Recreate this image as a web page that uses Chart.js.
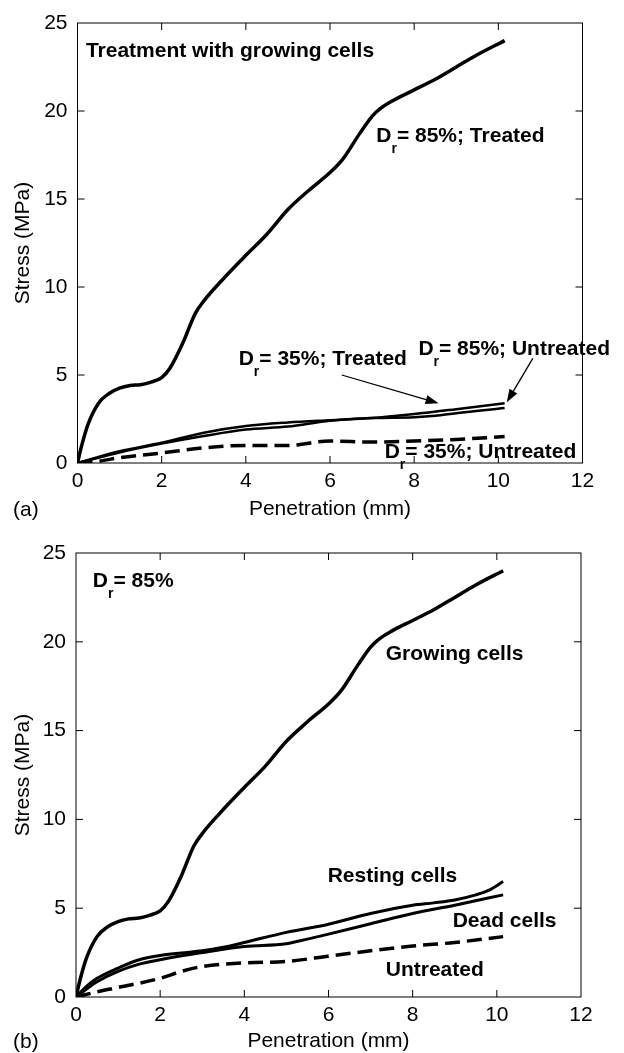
<!DOCTYPE html>
<html>
<head>
<meta charset="utf-8">
<title>Stress vs penetration</title>
<script src="https://cdn.jsdelivr.net/npm/chart.js@4.4.1/dist/chart.umd.min.js"></script>
<style>
  body { margin: 0; background: #fff; }
  canvas { display: block; }
</style>
</head>
<body>
<canvas id="chartA" width="624" height="526"></canvas>
<canvas id="chartB" width="624" height="527"></canvas>
<script>
// Axis ticks
const xTicks = [0, 2, 4, 6, 8, 10, 12];
const yTicks = [0, 5, 10, 15, 20, 25];

// Growing cells, Dr = 85% treated (same curve in both panels)
const growingX = [0, 0.1, 0.25, 0.5, 0.75, 1, 1.25, 1.5, 1.75, 2, 2.2, 2.5, 2.8, 3, 3.4, 4, 4.5, 5, 5.5, 6, 6.3, 6.7, 7, 7.2, 7.5, 8, 8.5, 9, 9.5, 10.15];
const growingY = [0, 1.0, 2.2, 3.4, 3.95, 4.25, 4.4, 4.45, 4.6, 4.85, 5.4, 6.8, 8.5, 9.2, 10.3, 11.8, 13.0, 14.4, 15.5, 16.5, 17.25, 18.7, 19.7, 20.15, 20.6, 21.2, 21.8, 22.5, 23.2, 24.0];

// Panel (a)
const untreated85X = [0, 1, 2, 3, 4, 5, 6, 7, 8, 9, 10.15];
const untreated85Y = [0, 0.67, 1.15, 1.72, 2.1, 2.3, 2.43, 2.55, 2.78, 3.06, 3.4];
const treated35X = [0, 1, 2, 3, 4, 5, 6, 7, 8, 8.5, 9, 10.15];
const treated35Y = [0, 0.6, 1.1, 1.53, 1.9, 2.07, 2.4, 2.55, 2.6, 2.68, 2.83, 3.12];
const untreated35X = [0, 0.5, 1, 2, 3, 4, 5, 6, 7, 8, 9, 10.15];
const untreated35Y = [0, 0.1, 0.3, 0.57, 0.86, 1.0, 1.0, 1.25, 1.19, 1.25, 1.34, 1.5];

// Panel (b)
const restingX = [0, 0.25, 0.5, 1, 1.5, 2, 2.5, 3, 3.5, 4, 5, 6, 7, 8, 8.5, 9, 9.5, 9.8, 10.15];
const restingY = [0, 0.6, 1.05, 1.63, 2.1, 2.34, 2.48, 2.6, 2.8, 3.07, 3.64, 4.1, 4.7, 5.17, 5.3, 5.46, 5.75, 6.0, 6.5];
const deadX = [0, 0.25, 0.5, 1, 1.5, 2, 3, 4, 5, 5.5, 6, 7, 8, 9, 10.15];
const deadY = [0, 0.45, 0.86, 1.44, 1.85, 2.1, 2.5, 2.84, 3.0, 3.26, 3.54, 4.12, 4.7, 5.17, 5.75];
const untreatedBX = [0, 0.5, 1, 2, 2.5, 3, 4, 5, 6, 7, 8, 9, 10.15];
const untreatedBY = [0, 0.29, 0.54, 1.05, 1.44, 1.72, 1.92, 2.0, 2.3, 2.6, 2.87, 3.07, 3.4];

// Annotations (data coordinates): main text, subscript, rest
const labelsA = [
  { x: 0.2, y: 23.05, main: 'Treatment with growing cells' },
  { x: 7.1, y: 18.26, main: 'D', sub: 'r', rest: '= 85%; Treated' },
  { x: 3.83, y: 5.57, main: 'D', sub: 'r', rest: '= 35%; Treated' },
  { x: 8.1, y: 6.14, main: 'D', sub: 'r', rest: '= 85%; Untreated' },
  { x: 7.3, y: 0.3, main: 'D', sub: 'r', rest: '= 35%; Untreated' }
];
const arrowsA = [
  { from: [6.28, 5.0], to: [8.58, 3.39] },
  { from: [10.82, 5.94], to: [10.2, 3.45] }
];
const labelsB = [
  { x: 0.4, y: 23.1, main: 'D', sub: 'r', rest: '= 85%' },
  { x: 7.36, y: 18.97, main: 'Growing cells' },
  { x: 5.98, y: 6.47, main: 'Resting cells' },
  { x: 8.95, y: 3.93, main: 'Dead cells' },
  { x: 7.36, y: 1.19, main: 'Untreated' }
];

const FONT = "'Liberation Sans', Arial, Helvetica, sans-serif";
Chart.defaults.font.family = FONT;
Chart.defaults.color = '#000';

const pts = (xs, ys) => xs.map((x, i) => ({ x, y: ys[i] }));

function series(xs, ys, width, dash) {
  return {
    data: pts(xs, ys),
    borderColor: '#000',
    borderWidth: width,
    borderDash: dash || [],
    pointRadius: 0,
    fill: false,
    cubicInterpolationMode: 'monotone'
  };
}

// Frame, inward ticks on all sides, annotations, arrows, panel letter
const figurePlugin = {
  id: 'figure',
  afterDraw(chart, args, opts) {
    const { ctx, chartArea: a, scales: { x, y } } = chart;
    ctx.save();
    ctx.strokeStyle = '#000';
    ctx.lineWidth = 1;
    ctx.strokeRect(a.left, a.top, a.right - a.left, a.bottom - a.top);
    const len = 7;
    ctx.beginPath();
    xTicks.slice(1, -1).forEach(v => {
      const px = x.getPixelForValue(v);
      ctx.moveTo(px, a.bottom); ctx.lineTo(px, a.bottom - len);
      ctx.moveTo(px, a.top); ctx.lineTo(px, a.top + len);
    });
    yTicks.slice(1, -1).forEach(v => {
      const py = y.getPixelForValue(v);
      ctx.moveTo(a.left, py); ctx.lineTo(a.left + len, py);
      ctx.moveTo(a.right, py); ctx.lineTo(a.right - len, py);
    });
    ctx.stroke();

    // arrows
    (opts.arrows || []).forEach(ar => {
      const x0 = x.getPixelForValue(ar.from[0]), y0 = y.getPixelForValue(ar.from[1]);
      const x1 = x.getPixelForValue(ar.to[0]), y1 = y.getPixelForValue(ar.to[1]);
      const ang = Math.atan2(y1 - y0, x1 - x0);
      const hl = 13, hw = 4.5;
      ctx.lineWidth = 1.3;
      ctx.beginPath();
      ctx.moveTo(x0, y0);
      ctx.lineTo(x1 - hl * Math.cos(ang), y1 - hl * Math.sin(ang));
      ctx.stroke();
      ctx.beginPath();
      ctx.moveTo(x1, y1);
      ctx.lineTo(x1 - hl * Math.cos(ang) + hw * Math.sin(ang), y1 - hl * Math.sin(ang) - hw * Math.cos(ang));
      ctx.lineTo(x1 - hl * Math.cos(ang) - hw * Math.sin(ang), y1 - hl * Math.sin(ang) + hw * Math.cos(ang));
      ctx.closePath();
      ctx.fillStyle = '#000';
      ctx.fill();
    });

    // labels
    ctx.fillStyle = '#000';
    ctx.textBaseline = 'alphabetic';
    ctx.textAlign = 'left';
    (opts.labels || []).forEach(l => {
      let px = x.getPixelForValue(l.x);
      const py = y.getPixelForValue(l.y);
      ctx.font = 'bold 21px ' + FONT;
      ctx.fillText(l.main, px, py);
      px += ctx.measureText(l.main).width;
      if (l.sub) {
        ctx.font = 'bold 14px ' + FONT;
        ctx.fillText(l.sub, px, py + 11);
        px += ctx.measureText(l.sub).width;
      }
      if (l.rest) {
        ctx.font = 'bold 21px ' + FONT;
        ctx.fillText(l.rest, px, py);
      }
    });

    // panel letter
    ctx.font = '21px ' + FONT;
    ctx.textBaseline = 'middle';
    ctx.fillText(opts.panel, 13, opts.panelY);
    ctx.restore();
  }
};

function makeOptions(cfg) {
  return {
    responsive: false,
    animation: false,
    devicePixelRatio: 1,
    layout: { padding: { top: cfg.top, right: cfg.right, left: 0, bottom: 0 } },
    plugins: {
      legend: { display: false },
      tooltip: { enabled: false },
      figure: { labels: cfg.labels, arrows: cfg.arrows, panel: cfg.panel, panelY: cfg.panelY }
    },
    scales: {
      x: {
        type: 'linear', min: 0, max: 12,
        afterBuildTicks: s => { s.ticks = xTicks.map(v => ({ value: v })); },
        afterFit: s => { s.height = cfg.xHeight; },
        ticks: { padding: 6, maxRotation: 0, autoSkip: false, font: { size: 21 }, color: '#000' },
        grid: { display: false, drawTicks: false },
        border: { display: false },
        title: { display: true, text: 'Penetration (mm)', color: '#000',
                 font: { size: 21, lineHeight: 1 }, padding: { top: 0, bottom: cfg.xTitlePad } }
      },
      y: {
        type: 'linear', min: 0, max: 25,
        afterBuildTicks: s => { s.ticks = yTicks.map(v => ({ value: v })); },
        afterFit: s => { s.width = cfg.yWidth; },
        ticks: { padding: 10, font: { size: 21 }, color: '#000' },
        grid: { display: false, drawTicks: false },
        border: { display: false },
        title: { display: true, text: 'Stress (MPa)', color: '#000',
                 font: { size: 21, lineHeight: 1 }, padding: { top: 13, bottom: 0 } }
      }
    }
  };
}

new Chart(document.getElementById('chartA'), {
  type: 'line',
  data: {
    datasets: [
      series(growingX, growingY, 3.5),
      series(untreated85X, untreated85Y, 2.5),
      series(treated35X, treated35Y, 2.5),
      series(untreated35X, untreated35Y, 3.5, [15, 7])
    ]
  },
  options: makeOptions({
    top: 23, right: 41.5, yWidth: 77.5, xHeight: 63, xTitlePad: 6.5,
    labels: labelsA, arrows: arrowsA, panel: '(a)', panelY: 510
  }),
  plugins: [figurePlugin]
});

new Chart(document.getElementById('chartB'), {
  type: 'line',
  data: {
    datasets: [
      series(growingX, growingY, 3.5),
      series(restingX, restingY, 3),
      series(deadX, deadY, 3),
      series(untreatedBX, untreatedBY, 3.5, [15, 7])
    ]
  },
  options: makeOptions({
    top: 27, right: 43, yWidth: 76, xHeight: 56, xTitlePad: 1,
    labels: labelsB, arrows: [], panel: '(b)', panelY: 516
  }),
  plugins: [figurePlugin]
});
</script>
</body>
</html>
